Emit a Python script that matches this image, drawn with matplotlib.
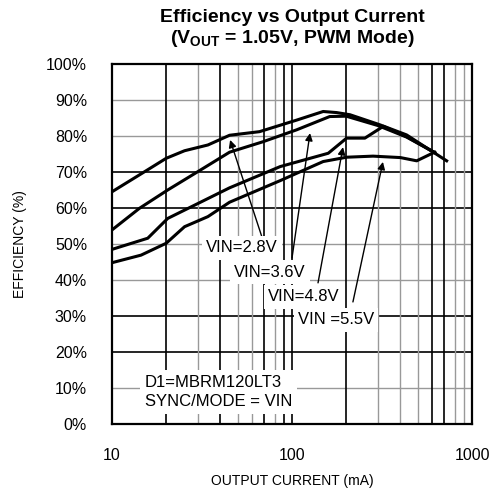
import numpy as np
import matplotlib.pyplot as plt

plt.rcParams['font.family'] = ['Liberation Sans', 'DejaVu Sans']
plt.rcParams['mathtext.fontset'] = 'custom'
plt.rcParams['mathtext.rm'] = 'Liberation Sans'
plt.rcParams['mathtext.bf'] = 'Liberation Sans:bold'

# efficiency curves (current in mA, efficiency in %)
i_28 = [10, 15.2, 20, 25.3, 34.1, 45, 66, 106, 149, 177, 210, 308, 433, 584, 723]
eff_28 = [64.5, 70.1, 73.8, 75.9, 77.5, 80.2, 81.2, 84.4, 86.8, 86.5, 85.9, 83.1, 80.3, 76.1, 73.1]

i_36 = [10, 14.2, 20.4, 30, 45, 69, 106, 162, 200, 300, 433, 620]
eff_36 = [53.9, 59.9, 65, 70.1, 75.5, 78.4, 81.7, 85.4, 85.5, 82.9, 79.7, 75.4]

i_48 = [10, 15.8, 20.4, 28.8, 45, 86, 159, 201, 254, 322, 433, 620]
eff_48 = [48.5, 51.6, 57.1, 60.8, 65.6, 71.5, 75.2, 79.4, 79.4, 82.7, 79.8, 75.4]

i_55 = [10, 14.5, 20, 25.3, 34.1, 45, 86, 149, 201, 282, 400, 493, 620]
eff_55 = [44.8, 46.9, 50.2, 54.8, 57.6, 61.6, 67.6, 72.9, 74.1, 74.4, 74.0, 73.1, 75.5]

labels = ['VIN=2.8V', 'VIN=3.6V', 'VIN=4.8V', 'VIN =5.5V']
# label centre, arrow tail and arrow head in data units
label_pos = [(52.7, 48.9), (75.5, 42.2), (116.6, 35.3), (175.8, 28.9)]
arrow_tail = [(68.1, 51.9), (100, 46.1), (139.5, 39.2), (218, 33.9)]
arrow_head = [(45.3, 78.9), (125.9, 80.8), (192, 76.9), (320, 72.8)]

y_ticks = [0, 10, 20, 30, 40, 50, 60, 70, 80, 90, 100]
y_dark = [20, 30, 60, 70]
x_grid = [20, 30, 40, 50, 60, 70, 80, 90, 100, 200, 300, 400, 500, 600, 700, 800, 900]
x_dark = [20, 40, 70, 90, 100, 200, 600, 700]


def main():
    fig = plt.figure(figsize=(4.98, 4.91), dpi=100)
    ax = fig.add_axes([0.2249, 0.1365, 0.7229, 0.7332])

    ax.set_xscale('log')
    ax.set_xlim(10, 1000)
    ax.set_ylim(0, 100)

    # grid, a mix of grey and black lines like the scan
    for v in y_ticks[1:-1]:
        if v in y_dark:
            ax.axhline(v, color='black', lw=1.2, zorder=1)
        else:
            ax.axhline(v, color='#999999', lw=1.0, zorder=1)
    for v in x_grid:
        if v in x_dark:
            ax.axvline(v, color='black', lw=1.2, zorder=1)
        else:
            ax.axvline(v, color='#999999', lw=1.0, zorder=1)

    for xs, ys in [(i_28, eff_28), (i_36, eff_36), (i_48, eff_48), (i_55, eff_55)]:
        ax.plot(xs, ys, color='black', lw=2.2, solid_joinstyle='round', zorder=3)

    for lab, pos, tail, head in zip(labels, label_pos, arrow_tail, arrow_head):
        ax.annotate('', xy=head, xytext=tail,
                    arrowprops=dict(arrowstyle='-|>', color='black', lw=1.0,
                                    mutation_scale=11, shrinkA=0, shrinkB=0),
                    zorder=4)
        ax.text(pos[0], pos[1], lab, fontsize=12, ha='center', va='center', zorder=5,
                bbox=dict(boxstyle='square,pad=0.25', facecolor='white', edgecolor='none'))

    ax.text(15.25, 8.9, 'D1=MBRM120LT3\nSYNC/MODE = VIN', fontsize=12, ha='left', va='center',
            linespacing=1.3, zorder=5,
            bbox=dict(boxstyle='square,pad=0.3', facecolor='white', edgecolor='none'))

    ax.set_yticks(y_ticks)
    ax.set_yticklabels([f'{v}%' for v in y_ticks])
    ax.set_xticks([10, 100, 1000])
    ax.set_xticklabels(['10', '100', '1000'])
    ax.xaxis.set_minor_locator(plt.NullLocator())
    ax.tick_params(axis='both', length=0, labelsize=11.5)
    ax.tick_params(axis='y', pad=18)
    ax.tick_params(axis='x', pad=17)

    for s in ax.spines.values():
        s.set_linewidth(1.6)
        s.set_zorder(6)

    fig.text(0.5863, 0.965, 'Efficiency vs Output Current', fontsize=14, fontweight='bold',
             ha='center', va='center')
    fig.text(0.5863, 0.922, r'(V$_{\mathbf{OUT}}$ = 1.05V, PWM Mode)', fontsize=14,
             fontweight='bold', ha='center', va='center')
    fig.text(0.5863, 0.0204, 'OUTPUT CURRENT (mA)', fontsize=10, ha='center', va='center')
    fig.text(0.040, 0.503, 'EFFICIENCY (%)', fontsize=10, ha='center', va='center',
             rotation=90)

    fig.savefig('out.png', dpi=100)


if __name__ == "__main__":
    main()
